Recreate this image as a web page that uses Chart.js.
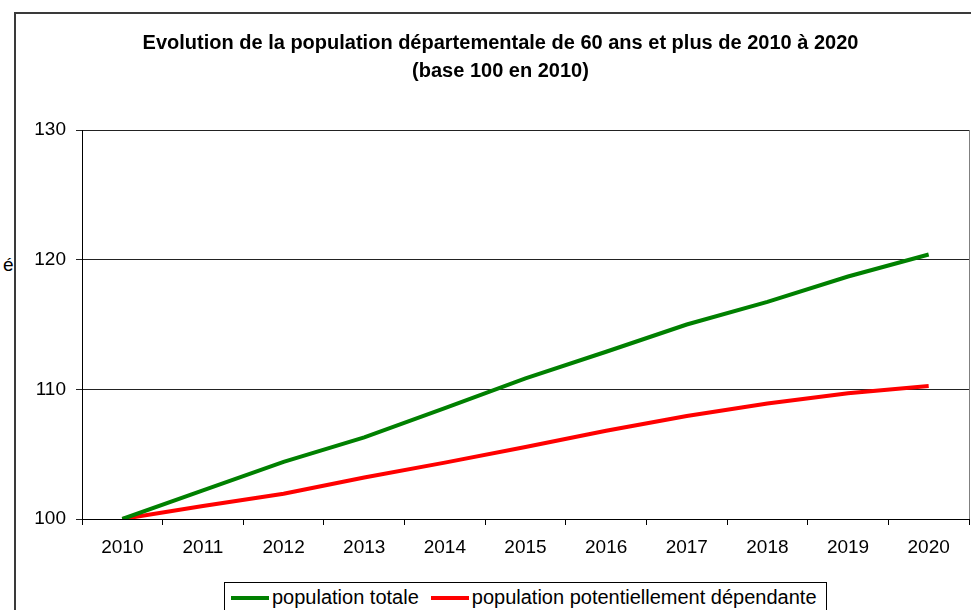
<!DOCTYPE html>
<html>
<head>
<meta charset="utf-8">
<script src="https://cdn.jsdelivr.net/npm/chart.js@4"></script>
<style>
  body { margin: 0; background: #fff; width: 971px; height: 610px; overflow: hidden; position: relative; font-family: "Liberation Sans", Arial, sans-serif; }
  #cadre { position: absolute; left: 14px; top: 12px; width: 1000px; height: 700px; border-left: 2px solid #3a3a3a; border-top: 2px solid #3a3a3a; }
  #graphe { position: absolute; left: 0; top: 0; }
  #bout { position: absolute; left: 3px; top: 254px; font-size: 19px; color: #000; }
  #legende { position: absolute; left: 224px; top: 582px; width: 603px; height: 40px; border: 1px solid #000; box-sizing: border-box; font-size: 20px; display: flex; align-items: flex-start; padding-top: 3px; padding-left: 6px; white-space: nowrap; }
  #legende .item { display: flex; align-items: center; margin-right: 12px; }
  #legende .trait { display: inline-block; width: 38px; height: 4px; margin-right: 3px; }
</style>
</head>
<body>
<div id="cadre"></div>
<span id="bout">é</span>
<canvas id="graphe" width="971" height="575"></canvas>
<div id="legende"></div>
<script>
const annees = ['2010', '2011', '2012', '2013', '2014', '2015', '2016', '2017', '2018', '2019', '2020'];
const populationTotale = [100, 102.2, 104.4, 106.3, 108.55, 110.85, 112.9, 115.0, 116.75, 118.7, 120.4];
const populationDependante = [100, 101.0, 101.95, 103.2, 104.35, 105.55, 106.8, 107.95, 108.9, 109.7, 110.25];
const ticksY = [100, 110, 120, 130];

const titre = ['Evolution de la population départementale de 60 ans et plus de 2010 à 2020', '(base 100 en 2010)'];

const bordDroit = {
    id: 'bordDroit',
    afterDraw(chart) {
        const { ctx, chartArea } = chart;
        ctx.save();
        ctx.strokeStyle = '#808080';
        ctx.lineWidth = 1;
        ctx.beginPath();
        ctx.moveTo(chartArea.right + 0.5, chartArea.top);
        ctx.lineTo(chartArea.right + 0.5, chartArea.bottom);
        ctx.stroke();
        ctx.restore();
    }
};

const chart = new Chart(document.getElementById('graphe').getContext('2d'), {
    type: 'line',
    data: {
        labels: annees,
        datasets: [{
            label: 'population totale',
            data: populationTotale,
            borderColor: '#008000',
            backgroundColor: '#008000',
            borderWidth: 4,
            pointRadius: 0,
            tension: 0
        }, {
            label: 'population potentiellement dépendante',
            data: populationDependante,
            borderColor: '#ff0000',
            backgroundColor: '#ff0000',
            borderWidth: 4,
            pointRadius: 0,
            tension: 0
        }]
    },
    options: {
        responsive: false,
        animation: false,
        layout: { padding: { left: 32, right: 2, top: 0, bottom: 0 } },
        plugins: {
            legend: { display: false },
            tooltip: { enabled: false },
            title: {
                display: true,
                text: titre,
                color: '#000',
                font: { family: '"Liberation Sans", Arial, sans-serif', size: 20, weight: 'bold', lineHeight: 1.4 },
                padding: { top: 29, bottom: 45 }
            }
        },
        scales: {
            x: {
                offset: true,
                afterFit: (axis) => { axis.height = 56; },
                grid: { offset: true, drawOnChartArea: false, drawTicks: true, tickLength: 6, color: '#000' },
                border: { display: true, color: '#000', width: 1 },
                ticks: { color: '#000', padding: 11, maxRotation: 0, font: { family: '"Liberation Sans", Arial, sans-serif', size: 19 } }
            },
            y: {
                min: 100,
                max: 130,
                afterFit: (axis) => { axis.width = 50; },
                afterBuildTicks: (axis) => { axis.ticks = ticksY.map(v => ({ value: v })); },
                grid: { color: '#222', tickLength: 6, drawTicks: true },
                border: { display: true, color: '#000', width: 1 },
                ticks: { color: '#000', padding: 10, font: { family: '"Liberation Sans", Arial, sans-serif', size: 19 } }
            }
        }
    },
    plugins: [bordDroit]
});

const legende = document.getElementById('legende');
chart.data.datasets.forEach(ds => {
    const item = document.createElement('span');
    item.className = 'item';
    const trait = document.createElement('span');
    trait.className = 'trait';
    trait.style.background = ds.borderColor;
    item.appendChild(trait);
    item.appendChild(document.createTextNode(ds.label));
    legende.appendChild(item);
});
</script>
</body>
</html>
